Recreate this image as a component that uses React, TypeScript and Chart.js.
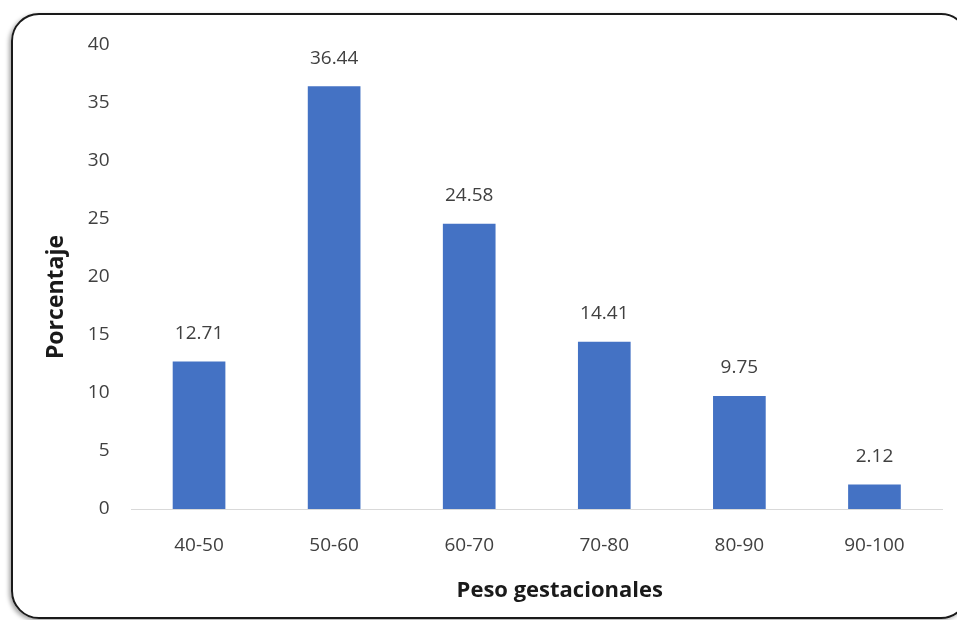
import React, { useEffect, useRef } from "react";
import { Chart, registerables } from "chart.js";

Chart.register(...registerables);

const categories = ["40-50", "50-60", "60-70", "70-80", "80-90", "90-100"];
const values = [12.71, 36.44, 24.58, 14.41, 9.75, 2.12];
const yTicks = [0, 5, 10, 15, 20, 25, 30, 35, 40];
const xTitle = "Peso gestacionales";
const yTitle = "Porcentaje";

const FONT = "'Open Sans', 'Noto Sans', sans-serif";

const dataLabels = {
  id: "dataLabels",
  afterDatasetsDraw(chart: any) {
    const ctx = chart.ctx;
    const meta = chart.getDatasetMeta(0);
    ctx.save();
    ctx.font = `19px ${FONT}`;
    ctx.fillStyle = "#404040";
    ctx.textAlign = "center";
    ctx.textBaseline = "middle";
    meta.data.forEach((bar: any, i: number) => {
      ctx.fillText(values[i].toFixed(2), bar.x, bar.y - 28);
    });
    ctx.restore();
  },
};

const axisTitles = {
  id: "axisTitles",
  afterDraw(chart: any) {
    const ctx = chart.ctx;
    const area = chart.chartArea;
    ctx.save();
    ctx.fillStyle = "#1a1a1a";
    ctx.textAlign = "center";
    ctx.textBaseline = "middle";
    ctx.font = `bold 22px ${FONT}`;
    ctx.fillText(xTitle, (area.left + area.right) / 2 + 23, area.bottom + 82);
    ctx.translate(56, (area.top + area.bottom) / 2 + 20);
    ctx.rotate(-Math.PI / 2);
    ctx.font = `bold 23px ${FONT}`;
    ctx.fillText(yTitle, 0, 0);
    ctx.restore();
  },
};

export default function App() {
  const ref = useRef<HTMLCanvasElement>(null);
  useEffect(() => {
    const chart = new Chart(ref.current!, {
      type: "bar",
      data: {
        labels: categories,
        datasets: [
          {
            data: values,
            backgroundColor: "#4472C4",
            barPercentage: 0.39,
            categoryPercentage: 1,
          },
        ],
      },
      options: {
        animation: false,
        responsive: false,
        maintainAspectRatio: false,
        layout: { padding: { left: 40, top: 45, right: 15, bottom: 8 } },
        plugins: { legend: { display: false }, tooltip: { enabled: false } },
        scales: {
          x: {
            grid: { display: false, drawTicks: false },
            border: { display: true, color: "#d9d9d9", width: 1 },
            ticks: { color: "#404040", font: { family: FONT, size: 19 }, padding: 25 },
            afterFit(scale: any) {
              scale.height = 103;
            },
          },
          y: {
            min: 0,
            max: 40,
            afterBuildTicks(scale: any) {
              scale.ticks = yTicks.map((v) => ({ value: v }));
            },
            grid: { display: false, drawTicks: false },
            border: { display: false },
            ticks: { color: "#404040", font: { family: FONT, size: 19 }, padding: 22 },
            afterFit(scale: any) {
              scale.width = 91.5;
            },
          },
        },
      },
      plugins: [dataLabels, axisTitles],
    });
    return () => chart.destroy();
  }, []);

  return (
    <div style={{ position: "fixed", left: 0, top: 0, width: 957, height: 620, background: "#fff", overflow: "hidden" }}>
      <div
        style={{
          position: "absolute",
          left: 11,
          top: 13,
          width: 958,
          height: 606,
          border: "2px solid #1a1a1a",
          borderRadius: 28,
          boxShadow: "-2px 2px 4px rgba(0,0,0,0.35)",
          boxSizing: "border-box",
        }}
      />
      <canvas ref={ref} width={957} height={620} style={{ position: "absolute", left: 0, top: 0 }} />
    </div>
  );
}
